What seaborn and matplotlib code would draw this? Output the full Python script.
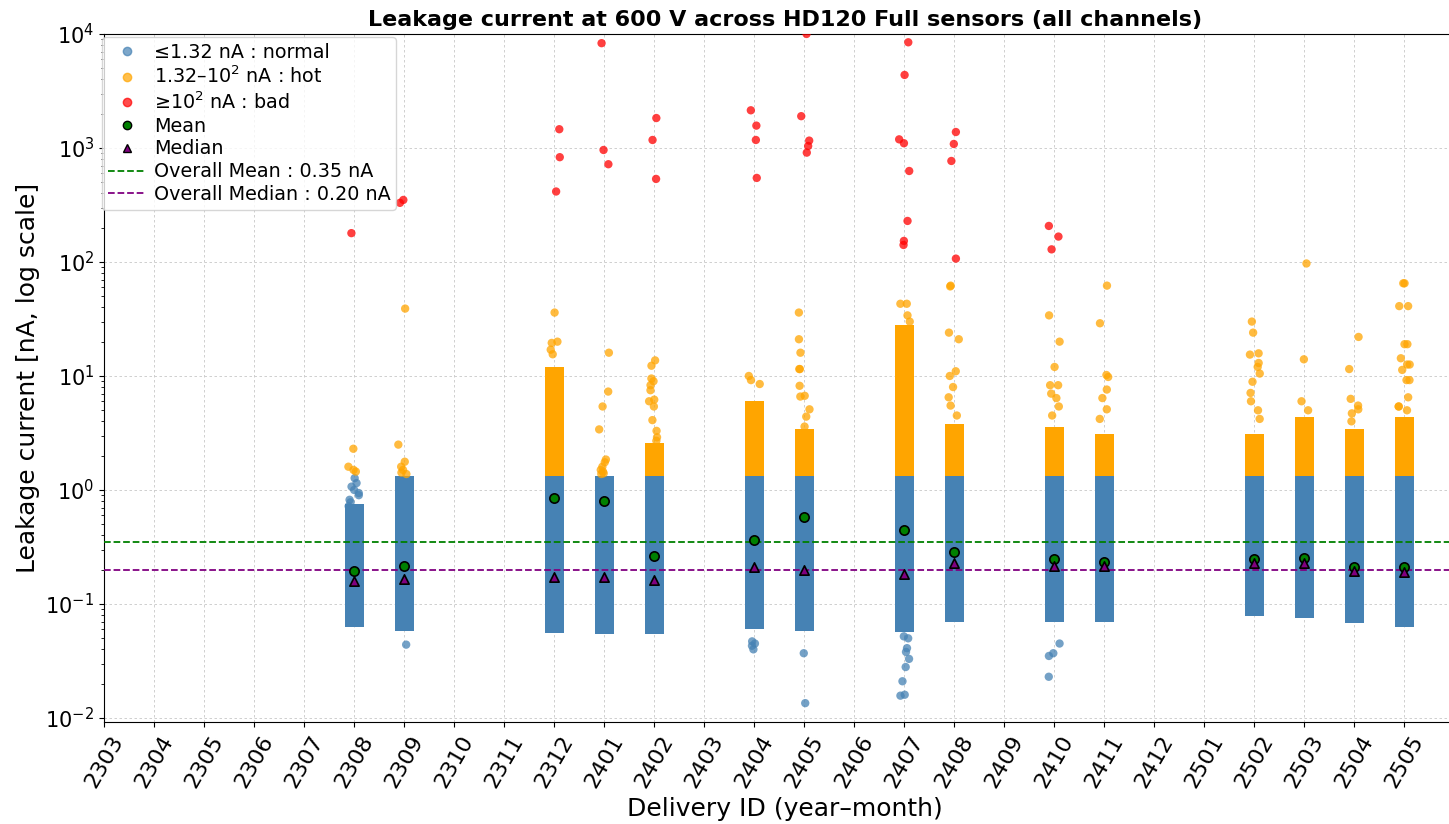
import numpy as np
import pandas as pd
import matplotlib
matplotlib.use("Agg")
import matplotlib.pyplot as plt
import seaborn as sns
from matplotlib.lines import Line2D

# every month shown on the x axis
month_ids = ["2303", "2304", "2305", "2306", "2307", "2308", "2309", "2310", "2311", "2312",
             "2401", "2402", "2403", "2404", "2405", "2406", "2407", "2408", "2409", "2410",
             "2411", "2412", "2501", "2502", "2503", "2504", "2505"]

# deliveries that have data
deliveries = ["2308", "2309", "2312", "2401", "2402", "2404", "2405", "2407",
              "2408", "2410", "2411", "2502", "2503", "2504", "2505"]

mean_na = [0.196, 0.217, 0.845, 0.80, 0.264, 0.364, 0.58, 0.446,
           0.286, 0.247, 0.235, 0.248, 0.252, 0.212, 0.21]
median_na = [0.159, 0.167, 0.171, 0.171, 0.161, 0.212, 0.199, 0.182,
             0.229, 0.217, 0.215, 0.227, 0.229, 0.195, 0.19]

# dense part of each column (nA)
normal_low = [0.063, 0.058, 0.056, 0.055, 0.055, 0.060, 0.058, 0.057,
              0.070, 0.070, 0.070, 0.078, 0.075, 0.068, 0.063]
normal_top = [0.75, 1.32, 1.32, 1.32, 1.32, 1.32, 1.32, 1.32,
              1.32, 1.32, 1.32, 1.32, 1.32, 1.32, 1.32]
hot_top = [1.32, 1.32, 12.0, 1.32, 2.6, 6.0, 3.4, 28.0,
           3.8, 3.6, 3.1, 3.1, 4.4, 3.4, 4.4]

# single channels outside the dense part
normal_pts = [
    [1.27, 1.15, 1.07, 1.0, 0.94, 0.9, 0.82, 0.78, 0.72],
    [0.044],
    [], [], [],
    [0.047, 0.045, 0.043, 0.040],
    [0.037, 0.0135],
    [0.052, 0.05, 0.041, 0.038, 0.033, 0.028, 0.021, 0.016, 0.0157],
    [],
    [0.045, 0.037, 0.035, 0.023],
    [], [], [], [], [],
]
hot_pts = [
    [2.3, 1.6, 1.5, 1.45],
    [39, 2.5, 1.77, 1.6, 1.5, 1.42, 1.38],
    [36, 20, 19.5, 17, 15.5],
    [16, 7.3, 5.4, 3.4, 1.85, 1.75, 1.6, 1.5, 1.45, 1.4, 1.38],
    [13.7, 12.3, 9.5, 9.0, 8.3, 7.5, 6.2, 6.0, 5.4, 4.1, 3.3, 2.9, 2.7],
    [10, 9.2, 8.5],
    [36, 21, 16, 11.5, 11.5, 8.2, 6.7, 6.6, 5.1, 4.4, 3.6],
    [43, 43, 34, 30],
    [62, 61, 24, 21, 11, 10, 8, 6.5, 5.5, 4.5],
    [34, 20, 12, 8.3, 8.3, 7.0, 6.4, 5.4, 4.5],
    [62, 29, 10.2, 9.8, 7.6, 6.4, 5.1, 4.2],
    [30, 24, 15.8, 15.4, 13, 12, 10.5, 8.9, 7.1, 6.0, 5.0, 4.2],
    [97, 14, 6.0, 5.0],
    [22, 11.5, 6.3, 5.5, 5.1, 4.7, 4.0],
    [65, 65, 41, 41, 19, 19, 14.3, 12.6, 12.6, 11.3, 9.2, 9.2, 6.5, 5.4, 5.4, 5.0],
]
bad_pts = [
    [179],
    [350, 330],
    [1460, 830, 415],
    [8300, 960, 720],
    [1830, 1175, 535],
    [2140, 1570, 1175, 546],
    [10000, 1900, 1160, 1040, 910],
    [8450, 4370, 1190, 1100, 628, 229, 153, 141],
    [1380, 1084, 769, 107],
    [207, 167, 129],
    [], [], [], [], [],
]

normal_cut = 1.32
overall_mean = 0.35
overall_median = 0.20

# long table for the strip plot
rows = []
for cls, groups in [("normal", normal_pts), ("hot", hot_pts), ("bad", bad_pts)]:
    for d, vals in zip(deliveries, groups):
        rows += [(d, v, cls) for v in vals]
df = pd.DataFrame(rows, columns=["delivery", "current", "cls"])

np.random.seed(3)
fig = plt.figure(figsize=(14.49, 8.24), dpi=100)
ax = fig.add_axes([0.0718, 0.1238, 0.94, 0.835])
ax.set_yscale("log")

pos = np.array([month_ids.index(d) for d in deliveries])
lo = np.array(normal_low)
top = np.array(normal_top)
ht = np.array(hot_top)

# dense clouds
ax.bar(pos, top - lo, bottom=lo, width=0.38, color="steelblue", zorder=2)
m = ht > normal_cut
ax.bar(pos[m], ht[m] - normal_cut, bottom=normal_cut, width=0.38, color="orange", zorder=2)

sns.stripplot(data=df, x="delivery", y="current", hue="cls", order=month_ids,
              hue_order=["normal", "hot", "bad"],
              palette={"normal": "steelblue", "hot": "orange", "bad": "red"},
              jitter=0.12, size=6, alpha=0.75, linewidth=0, legend=False,
              ax=ax, zorder=3)

ax.scatter(pos, mean_na, marker="o", s=45, color="green", edgecolors="black",
           linewidths=1.2, zorder=5)
ax.scatter(pos, median_na, marker="^", s=45, color="purple", edgecolors="black",
           linewidths=1.2, zorder=5)

ax.axhline(overall_mean, color="green", ls="--", lw=1.3, zorder=4)
ax.axhline(overall_median, color="purple", ls="--", lw=1.3, zorder=4)

ax.set_xlim(0, 27.24)
ax.set_ylim(10 ** -2.035, 1e4)
ax.grid(True, which="major", axis="both", ls=(0, (3, 3)), lw=0.6, color="#c8c8c8")
ax.set_axisbelow(True)

ax.tick_params(axis="x", labelrotation=60, labelsize=16)
ax.tick_params(axis="y", labelsize=15)

ax.set_title("Leakage current at 600 V across HD120 Full sensors (all channels)",
             fontsize=16, fontweight="bold")
ax.set_xlabel("Delivery ID (year–month)", fontsize=18)
ax.set_ylabel("Leakage current [nA, log scale]", fontsize=18)

handles = [
    Line2D([], [], marker="o", ls="", color="steelblue", alpha=0.7, markersize=6,
           label="≤1.32 nA : normal"),
    Line2D([], [], marker="o", ls="", color="orange", alpha=0.7, markersize=6,
           label="1.32–10$^2$ nA : hot"),
    Line2D([], [], marker="o", ls="", color="red", alpha=0.7, markersize=6,
           label="≥10$^2$ nA : bad"),
    Line2D([], [], marker="o", ls="", markerfacecolor="green", markeredgecolor="black",
           markersize=6, label="Mean"),
    Line2D([], [], marker="^", ls="", markerfacecolor="purple", markeredgecolor="black",
           markersize=6, label="Median"),
    Line2D([], [], color="green", ls="--", lw=1.3,
           label=f"Overall Mean : {overall_mean:.2f} nA"),
    Line2D([], [], color="purple", ls="--", lw=1.3,
           label=f"Overall Median : {overall_median:.2f} nA"),
]
ax.legend(handles=handles, loc="upper left", bbox_to_anchor=(-0.0015, 0.995),
          borderaxespad=0, fontsize=13.8, labelspacing=0.2, handletextpad=0.4,
          borderpad=0.3)

fig.savefig("out.png", dpi=100)
